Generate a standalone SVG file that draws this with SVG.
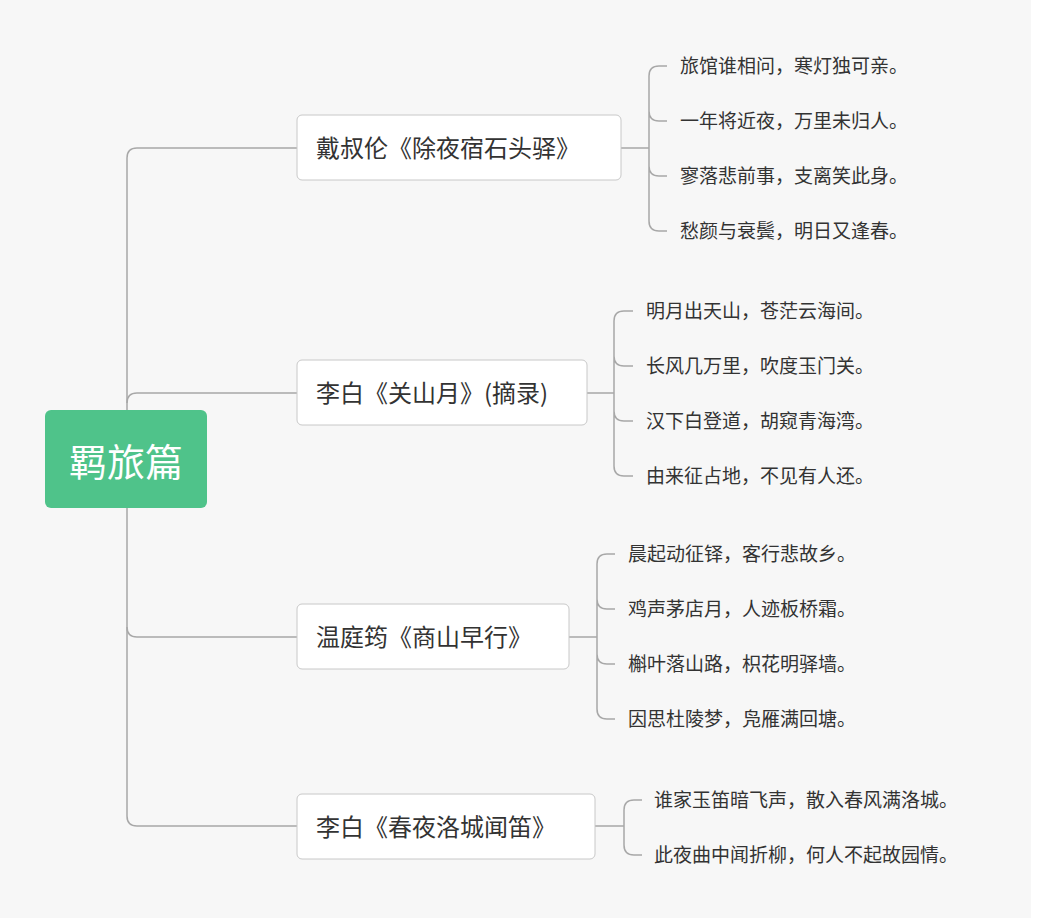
<svg xmlns="http://www.w3.org/2000/svg" width="1038" height="924" viewBox="0 0 1038 924">
<style>
.c{fill:none;stroke:#a8a8a8;stroke-width:1.5}
.n{fill:#fff;stroke:#c8c8c8;stroke-width:1}
.t{font-family:"Noto Sans CJK SC","Noto Sans",sans-serif;fill:#333}
.m{font-size:24px}
.s{font-size:19px}
</style>
<rect width="1038" height="924" fill="#fff"/>
<rect width="1031" height="918" fill="#f7f7f7"/>
<g id="connectors">
<path class="c" d="M297 148H137Q127 148 127 158V816Q127 826 137 826H297"/>
<path class="c" d="M127 403Q127 393 137 393H297M127 627Q127 637 137 637H297"/>
<path class="c" d="M621 148H649M659 66Q649 66 649 76V221Q649 231 659 231H667M667 66H659M649 111Q649 121 659 121H667M649 166Q649 176 659 176H667"/>
<path class="c" d="M587 393H614M624 311Q614 311 614 321V466Q614 476 624 476H633M633 311H624M614 356Q614 366 624 366H633M614 411Q614 421 624 421H633"/>
<path class="c" d="M569 637H597M607 554Q597 554 597 564V709Q597 719 607 719H615M615 554H607M597 599Q597 609 607 609H615M597 654Q597 664 607 664H615"/>
<path class="c" d="M595 826H624M634 800Q624 800 624 810V845Q624 855 634 855H642M642 800H634"/>
</g>
<g id="root"><rect x="45" y="410" width="162" height="98" rx="6" fill="#4fc38a"/><text class="t" x="126" y="476" font-size="38" text-anchor="middle" style="fill:#fff">羁旅篇</text></g>
<g id="n1"><rect class="n" x="297" y="115" width="324" height="65" rx="5"/><text class="t m" x="316" y="157">戴叔伦《除夜宿石头驿》</text></g>
<g id="n2"><rect class="n" x="297" y="360" width="290" height="65" rx="5"/><text class="t m" x="316" y="402">李白《关山月》(摘录)</text></g>
<g id="n3"><rect class="n" x="297" y="604" width="272" height="65" rx="5"/><text class="t m" x="316" y="646">温庭筠《商山早行》</text></g>
<g id="n4"><rect class="n" x="297" y="794" width="298" height="65" rx="5"/><text class="t m" x="316" y="836">李白《春夜洛城闻笛》</text></g>
<g id="l1" class="t s">
<text x="680" y="73">旅馆谁相问，寒灯独可亲。</text>
<text x="680" y="128">一年将近夜，万里未归人。</text>
<text x="680" y="183">寥落悲前事，支离笑此身。</text>
<text x="680" y="238">愁颜与衰鬓，明日又逢春。</text>
</g>
<g id="l2" class="t s">
<text x="646" y="318">明月出天山，苍茫云海间。</text>
<text x="646" y="373">长风几万里，吹度玉门关。</text>
<text x="646" y="428">汉下白登道，胡窥青海湾。</text>
<text x="646" y="483">由来征占地，不见有人还。</text>
</g>
<g id="l3" class="t s">
<text x="628" y="561">晨起动征铎，客行悲故乡。</text>
<text x="628" y="616">鸡声茅店月，人迹板桥霜。</text>
<text x="628" y="671">槲叶落山路，枳花明驿墙。</text>
<text x="628" y="726">因思杜陵梦，凫雁满回塘。</text>
</g>
<g id="l4" class="t s">
<text x="654" y="807">谁家玉笛暗飞声，散入春风满洛城。</text>
<text x="654" y="862">此夜曲中闻折柳，何人不起故园情。</text>
</g>
</svg>
